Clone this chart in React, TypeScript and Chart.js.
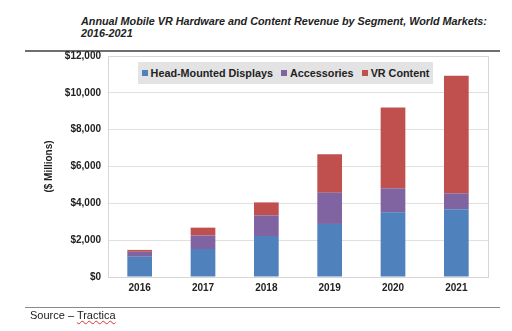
import React, { useEffect, useRef } from "react";
import { Chart, registerables } from "chart.js";

Chart.register(...registerables);

const years = ["2016", "2017", "2018", "2019", "2020", "2021"];
const headMounted = [1100, 1520, 2220, 2880, 3510, 3680];
const accessories = [270, 740, 1130, 1700, 1300, 860];
const vrContent = [100, 420, 700, 2080, 4400, 6390];
const seriesNames = ["Head-Mounted Displays", "Accessories", "VR Content"];
const seriesColors = ["#4F81BD", "#8064A2", "#C0504D"];

const FONT = "'Liberation Sans', Arial, sans-serif";

export default function App() {
  const ref = useRef<HTMLCanvasElement>(null);
  useEffect(() => {
    if (!ref.current) return;
    const border = {
      id: "areaBorder",
      afterDraw(chart: any) {
        const { ctx, chartArea } = chart;
        ctx.save();
        ctx.strokeStyle = "#d6d6d6";
        ctx.lineWidth = 1;
        ctx.strokeRect(chartArea.left + 0.5, chartArea.top + 0.5, chartArea.right - chartArea.left, chartArea.bottom - chartArea.top);
        ctx.restore();
      },
    };
    const data = [headMounted, accessories, vrContent];
    const chart = new Chart(ref.current, {
      type: "bar",
      data: {
        labels: years,
        datasets: seriesNames.map((n, i) => ({
          label: n,
          data: data[i],
          backgroundColor: seriesColors[i],
          barPercentage: 0.78,
          categoryPercentage: 0.5,
          borderWidth: 0,
        })),
      },
      options: {
        animation: false,
        responsive: false,
        maintainAspectRatio: false,
        layout: { padding: { top: 56, right: 24, left: 0, bottom: 0 } },
        plugins: { legend: { display: false }, tooltip: { enabled: false } },
        scales: {
          x: {
            stacked: true,
            grid: { display: false, drawTicks: false },
            border: { color: "#bdbdbd" },
            ticks: { color: "#222", font: { family: FONT, size: 10, weight: "bold" }, padding: 5 },
            afterFit: (s: any) => { s.height = 54; },
          },
          y: {
            stacked: true,
            min: 0,
            max: 12000,
            grid: { color: "#e0e0e0", drawTicks: false },
            border: { display: false },
            ticks: {
              stepSize: 2000,
              color: "#222",
              padding: 7,
              font: { family: FONT, size: 10, weight: "bold" },
              callback: (v: any) => "$" + Number(v).toLocaleString("en-US"),
            },
            title: {
              display: true,
              text: "($ Millions)",
              color: "#222",
              font: { family: FONT, size: 10, weight: "bold" },
              padding: { top: 43, bottom: 0 },
            },
            afterFit: (s: any) => { s.width = 108; },
          },
        },
      },
      plugins: [border],
    } as any);
    return () => chart.destroy();
  }, []);

  return (
    <div style={{ position: "relative", width: 512, height: 331, fontFamily: FONT, background: "#fff" }}>
      <style>{`body{margin:0}`}</style>
      <div style={{ position: "absolute", left: 81, top: 15, fontSize: 10.8, fontWeight: "bold", fontStyle: "italic", color: "#222", lineHeight: "12px", whiteSpace: "nowrap" }}>
        Annual Mobile VR Hardware and Content Revenue by Segment, World Markets:
        <br />
        2016-2021
      </div>
      <div style={{ position: "absolute", left: 25, top: 50, width: 475, height: 2, background: "#6f6f6f" }} />
      <canvas ref={ref} width={512} height={331} style={{ position: "absolute", left: 0, top: 0 }} />
      <div style={{ position: "absolute", left: 138, top: 62, width: 295, height: 22, background: "#e3e3e3", display: "flex", alignItems: "center", justifyContent: "center", gap: 8, fontSize: 10.8, fontWeight: "bold", color: "#222", whiteSpace: "nowrap" }}>
        {seriesNames.map((n, i) => (
          <span key={n} style={{ display: "flex", alignItems: "center" }}>
            <span style={{ display: "inline-block", width: 6, height: 6, background: seriesColors[i], marginRight: 3 }} />
            {n}
          </span>
        ))}
      </div>
      <div style={{ position: "absolute", left: 25, top: 307, width: 475, height: 1, background: "#8a8a8a" }} />
      <div style={{ position: "absolute", left: 30, top: 309, fontSize: 11, color: "#222", whiteSpace: "nowrap" }}>
        Source – <span style={{ textDecoration: "underline wavy #d33", textDecorationThickness: 1 }}>Tractica</span>
      </div>
    </div>
  );
}
